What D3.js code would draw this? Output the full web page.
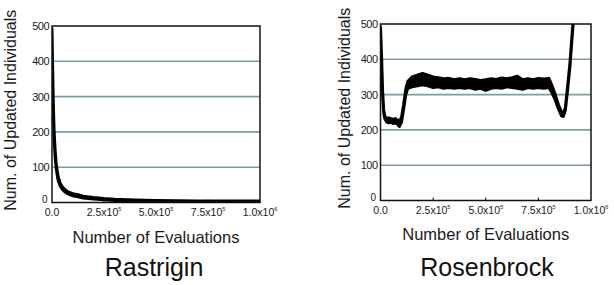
<!DOCTYPE html>
<html>
<head>
<meta charset="utf-8">
<script src="https://cdn.jsdelivr.net/npm/d3@7"></script>
<style>
  body { margin: 0; background: #fff; }
  svg { display: block; font-family: Arial, "Liberation Sans", Helvetica, sans-serif; }
</style>
</head>
<body>
<svg id="chart" width="614" height="285"></svg>
<script>
// tick values
const yTicks = [0, 100, 200, 300, 400, 500]
const xTicks = [0, 250000, 500000, 750000, 1000000]
const xTickBase = ['0.0', '2.5x10', '5.0x10', '7.5x10', '1.0x10']
const xTickExp = ['', '5', '5', '5', '6']

// Rastrigin: number of evaluations, lower/upper edge of the noisy trace
const rastEvals = [0, 2000, 4000, 6000, 8000, 10000, 13000, 16000, 20000, 25000, 30000, 40000, 50000, 60000, 75000, 100000, 125000, 150000, 200000, 250000, 300000, 400000, 500000, 600000, 700000, 800000, 900000, 1000000]
const rastLo = [480, 400, 330, 270, 225, 185, 150, 122, 98, 78, 62, 46, 37, 31, 25, 19, 16, 13, 10, 8, 6, 5, 4, 3, 3, 2, 2, 2]
const rastHi = [492, 420, 350, 290, 245, 205, 170, 140, 112, 90, 72, 54, 44, 38, 31, 25, 22, 18, 14, 11, 9, 7, 6, 5, 4, 4, 4, 4]

// Rosenbrock
const rosEvals = [0, 5000, 10000, 15000, 20000, 30000, 40000, 50000, 60000, 70000, 80000, 90000, 100000, 110000, 120000, 130000, 150000, 175000, 200000, 225000, 250000, 275000, 300000, 325000, 350000, 375000, 400000, 425000, 450000, 475000, 500000, 525000, 550000, 575000, 600000, 625000, 650000, 675000, 700000, 725000, 750000, 775000, 800000, 815000, 830000, 845000, 860000, 868000, 878000, 890000, 900000, 910000, 918000]
const rosLo = [485, 400, 300, 250, 232, 222, 220, 222, 218, 220, 216, 210, 222, 260, 300, 318, 322, 325, 328, 325, 320, 322, 318, 320, 318, 320, 318, 320, 315, 318, 312, 318, 320, 318, 322, 320, 318, 315, 320, 318, 320, 318, 320, 305, 285, 260, 240, 238, 255, 320, 380, 460, 520]
const rosHi = [492, 410, 310, 258, 240, 232, 234, 232, 230, 232, 228, 224, 236, 272, 315, 338, 350, 355, 360, 355, 350, 348, 345, 346, 342, 345, 342, 345, 343, 340, 342, 345, 343, 347, 345, 348, 352, 342, 345, 342, 346, 344, 346, 325, 300, 272, 250, 246, 262, 330, 390, 470, 530]

const panels = [
  { id: 'rast', title: 'Rastrigin', evals: rastEvals, lo: rastLo, hi: rastHi,
    x0: 52, x1: 260, yTop: 26, yBot: 202.5, yLabX: 10, xTitleY: 237, titleY: 267, titleX: 154 },
  { id: 'ros', title: 'Rosenbrock', evals: rosEvals, lo: rosLo, hi: rosHi,
    x0: 380.5, x1: 591, yTop: 24, yBot: 200.5, yLabX: 344, xTitleY: 234, titleY: 267, titleX: 487 }
]

const svg = d3.select('#chart')

panels.forEach(p => {
  const x = d3.scaleLinear().domain([0, 1000000]).range([p.x0, p.x1])
  const y = d3.scaleLinear().domain([0, 500]).range([p.yBot, p.yTop])
  const g = svg.append('g')

  g.append('clipPath').attr('id', 'clip-' + p.id)
    .append('rect')
    .attr('x', p.x0).attr('y', p.yTop)
    .attr('width', p.x1 - p.x0).attr('height', p.yBot - p.yTop)

  // grid lines
  g.append('g').selectAll('line')
    .data(yTicks.filter(d => d > 0 && d < 500))
    .join('line')
      .attr('x1', p.x0).attr('x2', p.x1)
      .attr('y1', d => y(d)).attr('y2', d => y(d))
      .attr('stroke', '#7f9ba4').attr('stroke-width', 1.6)

  // trace
  const pts = p.evals.map((e, i) => ({ e, lo: p.lo[i], hi: p.hi[i] }))
  const area = d3.area().x(d => x(d.e)).y0(d => y(d.lo)).y1(d => y(d.hi))
  g.append('path')
    .datum(pts)
    .attr('clip-path', 'url(#clip-' + p.id + ')')
    .attr('d', area)
    .attr('fill', '#000')
    .attr('stroke', '#000')
    .attr('stroke-width', 3)
    .attr('stroke-linejoin', 'round')

  // inward x ticks
  g.append('g').selectAll('line')
    .data(xTicks.slice(1, -1))
    .join('line')
      .attr('x1', d => x(d)).attr('x2', d => x(d))
      .attr('y1', p.yBot).attr('y2', p.yBot - 3)
      .attr('stroke', '#000').attr('stroke-width', 1)

  // frame
  g.append('rect')
    .attr('x', p.x0).attr('y', p.yTop)
    .attr('width', p.x1 - p.x0).attr('height', p.yBot - p.yTop)
    .attr('fill', 'none').attr('stroke', '#111').attr('stroke-width', 1.5)

  // y tick labels
  g.append('g').selectAll('text')
    .data(yTicks)
    .join('text')
      .attr('x', d => d === 0 ? p.x0 - 5 : p.x0 - 3)
      .attr('y', d => d === 0 ? y(d) + 0.5 : y(d) + 4)
      .attr('text-anchor', 'end')
      .attr('font-size', d => d === 0 ? 10 : 11)
      .attr('fill', '#1a1a1a')
      .attr('letter-spacing', -0.5)
      .text(d => d)

  // x tick labels
  const xl = g.append('g').selectAll('text')
    .data(xTicks)
    .join('text')
      .attr('x', d => x(d))
      .attr('y', p.yBot + 13.5)
      .attr('text-anchor', 'middle')
      .attr('font-size', 10.5)
      .attr('fill', '#1a1a1a')
  xl.append('tspan').text((d, i) => xTickBase[i])
  xl.append('tspan')
    .attr('dy', -5)
    .attr('font-size', 5.5)
    .text((d, i) => xTickExp[i])

  // axis titles
  g.append('text')
    .attr('transform', `translate(${p.yLabX},${(p.yTop + p.yBot) / 2 - 4}) rotate(-90)`)
    .attr('text-anchor', 'middle')
    .attr('dy', '0.35em')
    .attr('font-size', 16)
    .attr('fill', '#1a1a1a')
    .text('Num. of Updated Individuals')

  g.append('text')
    .attr('x', (p.x0 + p.x1) / 2)
    .attr('y', p.xTitleY)
    .attr('dy', '0.35em')
    .attr('text-anchor', 'middle')
    .attr('font-size', 16.5)
    .attr('fill', '#1a1a1a')
    .text('Number of Evaluations')

  g.append('text')
    .attr('x', p.titleX)
    .attr('y', p.titleY)
    .attr('dy', '0.35em')
    .attr('text-anchor', 'middle')
    .attr('font-size', 25)
    .attr('fill', '#111')
    .text(p.title)
})
</script>
</body>
</html>
